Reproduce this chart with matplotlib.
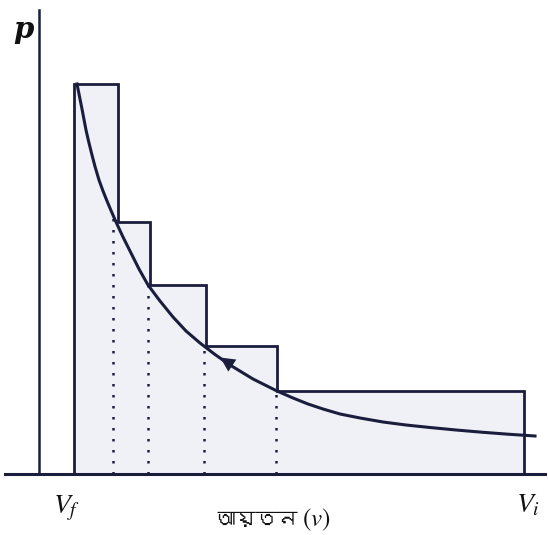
import numpy as np
import matplotlib
matplotlib.use("Agg")
import matplotlib.pyplot as plt
from matplotlib import font_manager
from matplotlib.ft2font import FT2Font

############################################
### values (arbitrary units)
step_edges   = [36, 80, 112, 168, 239, 486]      ## V at the step edges
step_heights = [390, 252, 189, 128, 83]          ## p of each step
curve_v = [39, 44, 48, 51, 54, 57, 61, 65, 69, 73, 78, 85, 93, 101, 110, 122, 135, 148, 162,
           177, 192, 215, 239, 255, 270, 285, 302, 322, 345, 368, 392, 418, 445, 470, 497]
curve_p = [390, 365, 344, 331, 319, 307.5, 294, 283, 273, 263.5, 252, 237, 221, 205, 189, 173,
           157, 143, 131, 119.5, 109, 95, 83, 76, 70, 65, 60, 56, 52, 49, 46.5, 44, 41.7, 39.8, 38]
dot_v = [75, 110, 166, 238]
dot_p = [256, 189, 129, 83]
############################################
ink  = "#1b1d3d"
fill = "#f0f1f7"

## find a font that has bengali letters, if any
beng = None
for f in font_manager.fontManager.ttflist:
    try:
        if 0x0986 in FT2Font(f.fname).get_charmap():
            beng = f.name
            break
    except Exception:
        pass
beng_family = [beng, "DejaVu Sans"] if beng else ["DejaVu Sans"]

plt.rcParams["mathtext.fontset"] = "stix"

fig = plt.figure(figsize=(5.48, 5.35), dpi=100)
ax = fig.add_axes([0, 0, 1, 1])
ax.set_xlim(-38, 510)
ax.set_ylim(-61, 474)
ax.axis("off")

## staircase outline
sx, sy = [step_edges[0]], [0]
for i, h in enumerate(step_heights):
    sx += [step_edges[i], step_edges[i + 1]]
    sy += [h, h]
sx.append(step_edges[-1])
sy.append(0)
ax.fill(sx, sy, color=fill, lw=0, zorder=1)
ax.plot(sx, sy, color=ink, lw=2.0, zorder=3, solid_joinstyle="miter")

## dotted verticals
for v, p in zip(dot_v, dot_p):
    ax.plot([v, v], [0, p], color=ink, lw=1.8, ls=(0, (1, 3.4)), zorder=2)

## the curve
ax.plot(curve_v, curve_p, color=ink, lw=2.2, zorder=4, solid_joinstyle="round")
ax.annotate("", xy=(180, 118), xytext=(198, 106),
            arrowprops=dict(arrowstyle="-|>", mutation_scale=26, color=ink, lw=0),
            zorder=5)

## axes
ax.plot([1, 1], [0, 464], color=ink, lw=1.8, zorder=3)
ax.plot([-33, 507], [0, 0], color=ink, lw=2.2, zorder=3)

## labels
ax.text(-15, 445, "p", fontsize=21, fontweight="bold", fontstyle="italic",
        family="DejaVu Serif", ha="center", va="center", color="#111")
ax.text(29, -34, r"$V_f$", fontsize=20, ha="center", va="center", color="#111")
ax.text(490, -30, r"$V_i$", fontsize=20, ha="center", va="center", color="#111")
ax.text(260, -46, "আয়তন", fontsize=15, family=beng_family, ha="right", va="center", color="#111")
ax.text(264, -46, r"$(v)$", fontsize=18, ha="left", va="center", color="#111")

plt.savefig("out.png", dpi=100)
